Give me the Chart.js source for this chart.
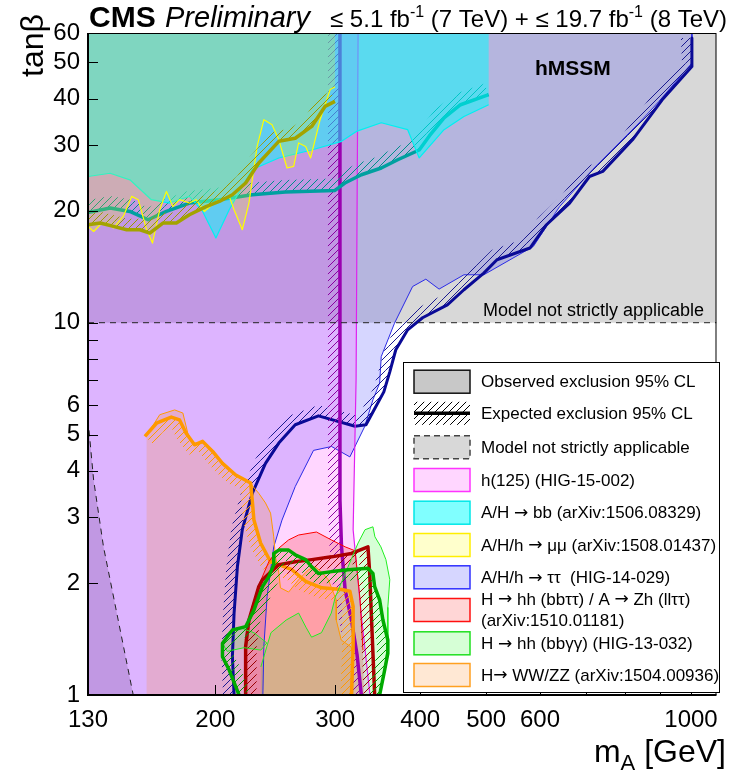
<!DOCTYPE html>
<html><head><meta charset="utf-8">
<script src="https://cdn.jsdelivr.net/npm/chart.js@4.4.1/dist/chart.umd.min.js"></script>
<style>html,body{margin:0;padding:0;background:#fff;}canvas{display:block;}</style>
</head><body>
<canvas id="c" width="729" height="774"></canvas>
<script>
// ---------------- data ----------------
const X_MIN = 130, X_MAX = 1090, Y_MIN = 1, Y_MAX = 60;
const xTicks = [130,200,300,400,500,600,700,800,900,1000];
const xTickLabels = [130,200,300,400,500,600,1000];
const yTicks = [1,2,3,4,5,6,7,8,9,10,20,30,40,50,60];
const yTickLabels = [1,2,3,4,5,6,10,20,30,40,50,60];

const modelLimitTanb = 10;
const grayLowBoundary = [[130,5.5],[132.5,3.78],[137,2.5],[143.3,1.66],[151.5,1]];

// A/H/h -> tautau
const ttObs = [[1003,60],[1003,49.85],[897,39.3],[838.8,34.4],[717,25.8],[641,20.5],[586.6,16.03],[496,13.45],[463.8,13.45],[426.4,12.31],[407.7,13.09],[389.9,12.51],[366.7,9.97],[350.6,8.11],[348.7,6.88],[340.9,6.21],[331.5,5.26],[315.3,4.36],[296.4,4.65],[278.8,4.54],[262.1,3.63],[250.6,2.95],[243.7,2.50],[238.3,1.84],[235.7,1.35],[234.9,1]];
const ttExp = [[1003,58.2],[1003,48.8],[907,39.7],[820.4,31.0],[741.9,25.5],[709.2,24.7],[663.2,20.96],[613.3,18.33],[579.9,15.87],[518.6,14.76],[496,13.59],[463.8,12.26],[438.5,11.17],[403.2,10.31],[383.4,9.57],[368.3,8.46],[360.9,7.38],[353.7,6.52],[342.1,5.83],[333,5.32],[320.9,5.27],[283.5,5.62],[262.1,5.32],[247.9,4.75],[237,4.19],[226.6,3.48],[219.1,2.78],[215.5,2.21],[213.1,1.66],[211.9,1.27],[213.1,1]];

// h(125)
const h125Obs = [[324.2,60],[322,7.02],[318.8,2.78],[327.5,1.66],[337.5,1]];
const h125Exp = [[304.9,60],[304.9,3.34],[306.5,2.50],[310.3,1.915],[317.0,1.59],[323.1,1.28],[327.8,1]];

// A/H -> bb
const bbObs = [[130,24.7],[140.1,25.2],[149.8,24.2],[161.1,21.4],[171.3,20.96],[183.2,21.84],[191.6,19.9],[200.4,16.88],[209.6,20.1],[226.6,25.8],[247.9,27.7],[277.1,29.1],[306.5,30.7],[322.3,32.65],[350.6,34.45],[383.4,33.0],[398.7,27.7],[433.6,33.0],[463.8,35.8],[504.3,38.5]];
const bbExp = [[130,19.78],[140.1,20.32],[149.8,19.9],[159.3,18.9],[169.5,19.9],[183.2,20.96],[202.7,21.4],[226.6,22.07],[253.5,22.44],[299.8,22.66],[310,23.72],[327.8,24.97],[350.6,26.03],[370.7,27.4],[398.7,29.1],[412.8,31.8],[433.6,35.5],[458.5,38.5],[504.3,40.97]];

// A/H/h -> mumu
const mmObs = [[130,18.14],[132.5,17.58],[135.5,18.33],[138.6,18.52],[141.7,17.96],[146.5,19.29],[150.7,21.84],[154.1,21.4],[158.5,17.77],[161.7,16.36],[165.7,20.1],[169.5,22.52],[173.2,20.5],[177.2,21.4],[183.2,20.96],[187.4,21.4],[192.7,19.9],[200.4,21.17],[209.6,21.84],[213.1,20.1],[219.1,17.77],[224.1,20.96],[230.4,29.75],[235.7,35.1],[242.3,34.0],[247.9,31.0],[254.9,26.03],[260.7,26.3],[265.1,30.4],[271.5,29.75],[276.1,27.7],[285.1,35.1],[295.0,42.3],[299.8,42.96]];
const mmExp = [[130,18.33],[135.5,18.52],[141.7,18.14],[148.2,17.77],[155,17.77],[160.2,17.41],[167.5,18.52],[175.3,18.52],[183.2,19.5],[193.8,20.5],[202.7,21.17],[211.9,22.07],[221.6,23.72],[231.7,26.85],[247.9,30.7],[262.1,31.3],[277.1,33.67],[289.9,38.1],[299.8,39.3]];

// H -> WW/ZZ
const wzObs = [[158.5,1],[158.5,4.97],[165.7,5.66],[174.3,5.83],[179.2,5.72],[182.2,5.05],[185.3,4.75],[191.6,4.75],[198.2,4.55],[204.9,4.19],[214.3,3.90],[224.1,3.74],[231.7,3.48],[237,3.28],[241.1,3.08],[243.7,2.66],[245.1,2.35],[247.9,2.13],[249.3,1.94],[256.3,1.89],[265.1,2.04],[274.1,2.17],[280.5,2.21],[286.4,2.14],[293.1,2.04],[301.1,1.80],[301.1,1.59],[306.2,1.405],[316.6,1.346],[319.8,1.24],[319.8,1]];
const wzExp = [[157.6,4.95],[163.9,5.37],[172.3,5.58],[177.2,5.48],[181.2,5.05],[186.4,4.70],[191.6,4.80],[198.2,4.51],[204.9,4.19],[214.3,3.90],[225.4,3.71],[226.6,3.34],[227.9,2.95],[233.1,2.56],[241.1,2.28],[247.9,2.24],[259.2,2.17],[271.5,2.02],[286.7,1.94],[306.5,1.92],[315.3,1.90],[318.8,1.73],[318.8,1.35],[317.0,1]];

// H -> hh (bbtautau) / A -> Zh (lltautau)
const hhObs = [[221.3,1],[221.3,1.405],[225.6,1.69],[231.7,1.975],[239.7,2.28],[247.9,2.48],[256.3,2.61],[265.1,2.69],[281.6,2.74],[296.1,2.61],[310.3,2.50],[320.9,2.44],[326.4,1.80],[329.6,1.32],[330.8,1]];
const hhExp = [[221.6,1],[221.6,1.35],[224.1,1.59],[231.7,1.955],[234.6,2.04],[247.9,2.24],[262.1,2.28],[277.1,2.31],[296.4,2.35],[317.0,2.40],[335.2,2.50],[337.2,2.12],[339,1.66],[342.9,1]];

// H -> hh (bbgammagamma)
const ggObs = [[233.3,1],[233.3,1.19],[241.4,1.47],[254.2,1.59],[265.1,1.66],[271.8,1.52],[277,1.43],[286.4,1.47],[296.1,1.66],[300.1,1.83],[306.2,2.0],[316.6,2.31],[324.2,2.56],[331.9,2.78],[340.9,2.83],[343.2,2.66],[350.2,2.50],[356.2,2.31],[360.9,2.04],[358.5,1.72],[358.5,1.405],[355.0,1.19],[349.0,1]];
const ggBlob = [[204.7,1.38],[209.6,1.48],[216.7,1.52],[227.9,1.47],[238.1,1.38],[233.3,1.32],[220.5,1.34],[208.2,1.31]];
const ggExp = [[216.7,1],[214.3,1.053],[209.6,1.167],[204.9,1.267],[204.9,1.377],[211.9,1.495],[221.6,1.526],[227.9,1.69],[231.7,1.837],[234.6,1.955],[239.7,2.08],[243.7,2.24],[243.7,2.40],[247.9,2.45],[256.3,2.45],[262.1,2.38],[271.5,2.31],[277.1,2.21],[283.5,2.12],[296.4,2.145],[313.4,2.17],[335.2,2.19],[340.9,2.12],[342.9,1.955],[348.7,1.80],[352.6,1.59],[358.5,1.405],[358.5,1.294],[354.7,1.167],[348.7,1]];

const legendLabels = [
  ['Observed exclusion 95% CL'],
  ['Expected exclusion 95% CL'],
  ['Model not strictly applicable'],
  ['h(125) (HIG-15-002)'],
  ['A/H \u2192 bb (arXiv:1506.08329)'],
  ['A/H/h \u2192 \u03bc\u03bc (arXiv:1508.01437)'],
  ['A/H/h \u2192 \u03c4\u03c4  (HIG-14-029)'],
  ['H \u2192 hh (bb\u03c4\u03c4) / A \u2192 Zh (ll\u03c4\u03c4)', '(arXiv:1510.01181)'],
  ['H \u2192 hh (bb\u03b3\u03b3) (HIG-13-032)'],
  ['H\u2192 WW/ZZ (arXiv:1504.00936)']
];

// ---------------- build datasets ----------------
const FONT = '"Liberation Sans", Arial, Helvetica, sans-serif';
const P = a => a.map(([x, y]) => ({x, y}));
const layers = [];
function addFill(pts, color) {
  layers.push({data: P(pts), fill: 'shape', backgroundColor: color, borderColor: 'rgba(0,0,0,0)', borderWidth: 0, pointRadius: 0});
}
function addLine(pts, color, width, extra) {
  layers.push(Object.assign({data: P(pts), fill: false, borderColor: color, borderWidth: width, pointRadius: 0, borderJoinStyle: 'round'}, extra || {}));
}
addFill([[X_MIN, modelLimitTanb], [X_MAX, modelLimitTanb], [X_MAX, Y_MAX], [X_MIN, Y_MAX]], '#d8d8d8');
addFill([...grayLowBoundary, [X_MIN, Y_MIN]], '#d8d8d8');
addFill([...ttObs, [X_MIN, Y_MIN], [X_MIN, Y_MAX]], 'rgba(0,0,255,0.16)');
addFill([...h125Obs, [X_MIN, Y_MIN], [X_MIN, Y_MAX]], 'rgba(255,0,255,0.16)');
addFill(wzObs, 'rgba(255,128,0,0.18)');
addFill(hhObs, 'rgba(255,0,0,0.2)');
addFill(ggObs, 'rgba(0,255,0,0.16)');
addFill(ggBlob, 'rgba(0,255,0,0.16)');
addLine(ttObs, '#2a2ae6', 1);
addLine(ttExp, '#0a0a96', 3, {hatch: {side: 1, width: 11, color: '#1a1a90'}});
addLine(h125Obs, '#e020f0', 1.2);
addLine(h125Exp, '#9a00b0', 3.5, {hatch: {side: 1, width: 12, color: '#8a00a0'}});
addLine(bbExp, '#00a0a0', 3.5, {hatch: {side: -1, width: 12, color: '#008c8c'}});
addFill([...bbObs, [bbObs[bbObs.length - 1][0], Y_MAX], [X_MIN, Y_MAX]], 'rgba(0,255,255,0.5)');
addLine(bbObs, '#00f0f0', 1.2);
addFill([...mmObs, [mmObs[mmObs.length - 1][0], Y_MAX], [X_MIN, Y_MAX]], 'rgba(255,255,0,0.2)');
addLine(mmObs, '#ffff00', 1.2);
addLine(mmExp, '#a3a300', 3.5, {hatch: {side: -1, width: 11, color: '#999900'}});
addLine(wzObs.slice(1, -1), '#ff9900', 1);
addLine(wzExp, '#ff9900', 3.5, {hatch: {side: 1, width: 11, color: '#ff9900'}});
addLine(hhObs.slice(1, -1), '#ff0000', 1);
addLine(hhExp, '#aa0000', 3.5, {hatch: {side: 1, width: 11, color: '#990000'}});
addLine(ggObs.slice(1, -1), '#22ee22', 1);
addLine(ggBlob.concat([ggBlob[0]]), '#22ee22', 1);
addLine(ggExp, '#00aa00', 3.5, {hatch: {side: 1, width: 11, color: '#009900'}});
addLine([[X_MIN, modelLimitTanb], [X_MAX, modelLimitTanb]], '#222', 1, {borderDash: [6, 5]});
addLine(grayLowBoundary, '#222', 1, {borderDash: [6, 5]});

const datasets = layers.map((d, i) => Object.assign(d, {order: layers.length - i, tension: 0}));

// ---------------- plugins ----------------
function makePattern(ctx, color) {
  const s = 7, c = document.createElement('canvas');
  c.width = s; c.height = s;
  const g = c.getContext('2d');
  g.strokeStyle = color; g.lineWidth = 1;
  g.beginPath();
  g.moveTo(0, s); g.lineTo(s, 0);
  g.moveTo(-1, 1); g.lineTo(1, -1);
  g.moveTo(s - 1, s + 1); g.lineTo(s + 1, s - 1);
  g.stroke();
  return ctx.createPattern(c, 'repeat');
}
const hatchPlugin = {
  id: 'hatchBand',
  beforeDatasetDraw(chart, args) {
    const ds = chart.data.datasets[args.index];
    if (!ds.hatch) return;
    const pts = args.meta.data.map(p => ({x: p.x, y: p.y}));
    const n = pts.length, {side, width, color} = ds.hatch;
    const off = [];
    for (let i = 0; i < n; i++) {
      const a = pts[Math.max(0, i - 1)], b = pts[Math.min(n - 1, i + 1)];
      let dx = b.x - a.x, dy = b.y - a.y;
      const L = Math.hypot(dx, dy) || 1; dx /= L; dy /= L;
      off.push({x: pts[i].x - side * dy * width, y: pts[i].y + side * dx * width});
    }
    const ctx = chart.ctx, ar = chart.chartArea;
    ctx.save();
    ctx.beginPath(); ctx.rect(ar.left, ar.top, ar.right - ar.left, ar.bottom - ar.top); ctx.clip();
    ctx.fillStyle = makePattern(ctx, color);
    for (let i = 0; i < n - 1; i++) {
      ctx.beginPath();
      ctx.moveTo(pts[i].x, pts[i].y); ctx.lineTo(pts[i + 1].x, pts[i + 1].y);
      ctx.lineTo(off[i + 1].x, off[i + 1].y); ctx.lineTo(off[i].x, off[i].y);
      ctx.closePath(); ctx.fill();
    }
    ctx.restore();
  }
};

function drawRich(ctx, parts, x, y) {
  let cx = x;
  for (const [t, f, dy] of parts) { ctx.font = f; ctx.fillText(t, cx, y + dy); cx += ctx.measureText(t).width; }
  return cx - x;
}
function richWidth(ctx, parts) {
  let w = 0; for (const [t, f] of parts) { ctx.font = f; w += ctx.measureText(t).width; } return w;
}
function labelParts(text, size) {
  const out = [];
  text.split('\u2192').forEach((seg, i) => {
    if (i > 0) out.push(['\u2192', size + 'px "DejaVu Sans", ' + FONT, 0]);
    if (seg) out.push([seg, size + 'px ' + FONT, 0]);
  });
  return out;
}

const decorPlugin = {
  id: 'decor',
  afterDatasetsDraw(chart) {
    const ctx = chart.ctx, ar = chart.chartArea, xs = chart.scales.x, ys = chart.scales.y;
    ctx.save();
    ctx.strokeStyle = '#000'; ctx.lineWidth = 1;
    ctx.beginPath();
    for (const v of xTicks) { if (v === X_MIN) continue; const px = Math.round(xs.getPixelForValue(v)) + 0.5; ctx.moveTo(px, ar.bottom); ctx.lineTo(px, ar.bottom - 10); }
    for (const v of yTicks) { if (v === Y_MIN || v === Y_MAX) continue; const py = Math.round(ys.getPixelForValue(v)) + 0.5; ctx.moveTo(ar.left, py); ctx.lineTo(ar.left + 10, py); }
    ctx.stroke();
    ctx.lineWidth = 1;
    ctx.strokeRect(ar.left + 0.5, ar.top + 0.5, ar.right - ar.left - 1, ar.bottom - ar.top - 1);
    ctx.lineWidth = 2;
    ctx.beginPath(); ctx.moveTo(ar.left, ar.top); ctx.lineTo(ar.left, ar.bottom); ctx.lineTo(ar.right, ar.bottom); ctx.stroke();
    ctx.fillStyle = '#000'; ctx.textBaseline = 'alphabetic'; ctx.textAlign = 'left';
    ctx.font = 'bold 21px ' + FONT; ctx.fillText('hMSSM', 535, 75);
    ctx.font = '18px ' + FONT; ctx.fillText('Model not strictly applicable', 483, 316);
    ctx.restore();
  },
  afterDraw(chart) {
    const ctx = chart.ctx;
    ctx.save();
    ctx.fillStyle = '#000'; ctx.textBaseline = 'alphabetic'; ctx.textAlign = 'left';
    ctx.font = 'bold 30px ' + FONT; ctx.fillText('CMS', 89, 27);
    ctx.font = 'italic 29px ' + FONT; ctx.fillText('Preliminary', 165, 27);
    const F = '24px ' + FONT, S = '16px ' + FONT;
    const lumi = [['\u2264 5.1 fb', F, 0], ['-1', S, -10], [' (7 TeV) + \u2264 19.7 fb', F, 0], ['-1', S, -10], [' (8 TeV)', F, 0]];
    drawRich(ctx, lumi, 727 - richWidth(ctx, lumi), 27);
    const T = '32px ' + FONT, TS = '22px ' + FONT;
    const mt = [['m', T, 0], ['A', TS, 8], [' [GeV]', T, 0]];
    drawRich(ctx, mt, 726 - richWidth(ctx, mt), 762);
    ctx.save(); ctx.translate(43, 14); ctx.rotate(-Math.PI / 2);
    ctx.font = T; ctx.textAlign = 'right'; ctx.fillText('tan\u03b2', 0, 0);
    ctx.restore();
    // legend
    const L = {x: 403, y: 362, w: 316, h: 330};
    ctx.fillStyle = '#fff'; ctx.fillRect(L.x, L.y, L.w, L.h);
    ctx.strokeStyle = '#000'; ctx.lineWidth = 1; ctx.strokeRect(L.x + 0.5, L.y + 0.5, L.w, L.h);
    const rows = [381.7, 413.3, 447.3, 480, 512.7, 545, 577.3, 610, 643.3, 675];
    const sty = [
      {k: 'obs'}, {k: 'exp'}, {k: 'model'},
      {f: '#ffd6ff', s: '#ff33ff'}, {f: '#80ffff', s: '#00e8e8'}, {f: '#ffffcc', s: '#ffee00'},
      {f: '#d6d6ff', s: '#3030ff'}, {f: '#ffd6d6', s: '#ff1010'}, {f: '#d6ffd6', s: '#20e020'}, {f: '#ffe8d4', s: '#ffa020'}
    ];
    const bx = 414, bw = 56, bh = 23;
    rows.forEach((cy, i) => {
      const st = sty[i], top = cy - bh / 2;
      if (st.k === 'obs') {
        ctx.fillStyle = '#c8c8c8'; ctx.fillRect(bx, top, bw, bh);
        ctx.strokeStyle = '#111'; ctx.lineWidth = 1.5; ctx.strokeRect(bx, top, bw, bh);
      } else if (st.k === 'exp') {
        ctx.fillStyle = makePattern(ctx, '#000'); ctx.fillRect(bx, top, bw, bh);
        ctx.strokeStyle = '#000'; ctx.lineWidth = 3.5; ctx.beginPath(); ctx.moveTo(bx, cy); ctx.lineTo(bx + bw, cy); ctx.stroke();
      } else if (st.k === 'model') {
        ctx.fillStyle = '#d8d8d8'; ctx.fillRect(bx, top, bw, bh);
        ctx.strokeStyle = '#444'; ctx.lineWidth = 1.5; ctx.setLineDash([6, 4]); ctx.strokeRect(bx, top, bw, bh); ctx.setLineDash([]);
      } else {
        ctx.fillStyle = st.f; ctx.fillRect(bx, top, bw, bh);
        ctx.strokeStyle = st.s; ctx.lineWidth = 1.5; ctx.strokeRect(bx, top, bw, bh);
      }
      ctx.fillStyle = '#000'; ctx.textBaseline = 'middle';
      const lab = legendLabels[i];
      if (lab.length === 1) drawRich(ctx, labelParts(lab[0], 17), 481, cy + 1);
      else { drawRich(ctx, labelParts(lab[0], 17), 481, cy - 10); drawRich(ctx, labelParts(lab[1], 17), 481, cy + 11); }
    });
    ctx.restore();
  }
};

// ---------------- chart ----------------
new Chart(document.getElementById('c'), {
  type: 'line',
  data: {datasets},
  options: {
    responsive: false, animation: false, devicePixelRatio: 1,
    layout: {padding: {top: 33, right: 7, left: 0, bottom: 0}},
    plugins: {legend: {display: false}, tooltip: {enabled: false}},
    elements: {line: {tension: 0}},
    scales: {
      x: {
        type: 'logarithmic', min: X_MIN, max: X_MAX,
        grid: {display: false, drawTicks: false}, border: {display: false},
        afterBuildTicks: s => { s.ticks = xTicks.map(v => ({value: v})); },
        afterFit: s => { s.height = 79; },
        ticks: {autoSkip: false, maxRotation: 0, padding: 11, color: '#000', font: {size: 24, family: FONT},
          callback: v => xTickLabels.includes(v) ? String(v) : ''}
      },
      y: {
        type: 'logarithmic', min: Y_MIN, max: Y_MAX,
        grid: {display: false, drawTicks: false}, border: {display: false},
        afterBuildTicks: s => { s.ticks = yTicks.map(v => ({value: v})); },
        afterFit: s => { s.width = 88; },
        ticks: {autoSkip: false, padding: 8, color: '#000', font: {size: 24, family: FONT},
          callback: v => yTickLabels.includes(v) ? String(v) : ''}
      }
    }
  },
  plugins: [hatchPlugin, decorPlugin]
});
</script>
</body></html>
